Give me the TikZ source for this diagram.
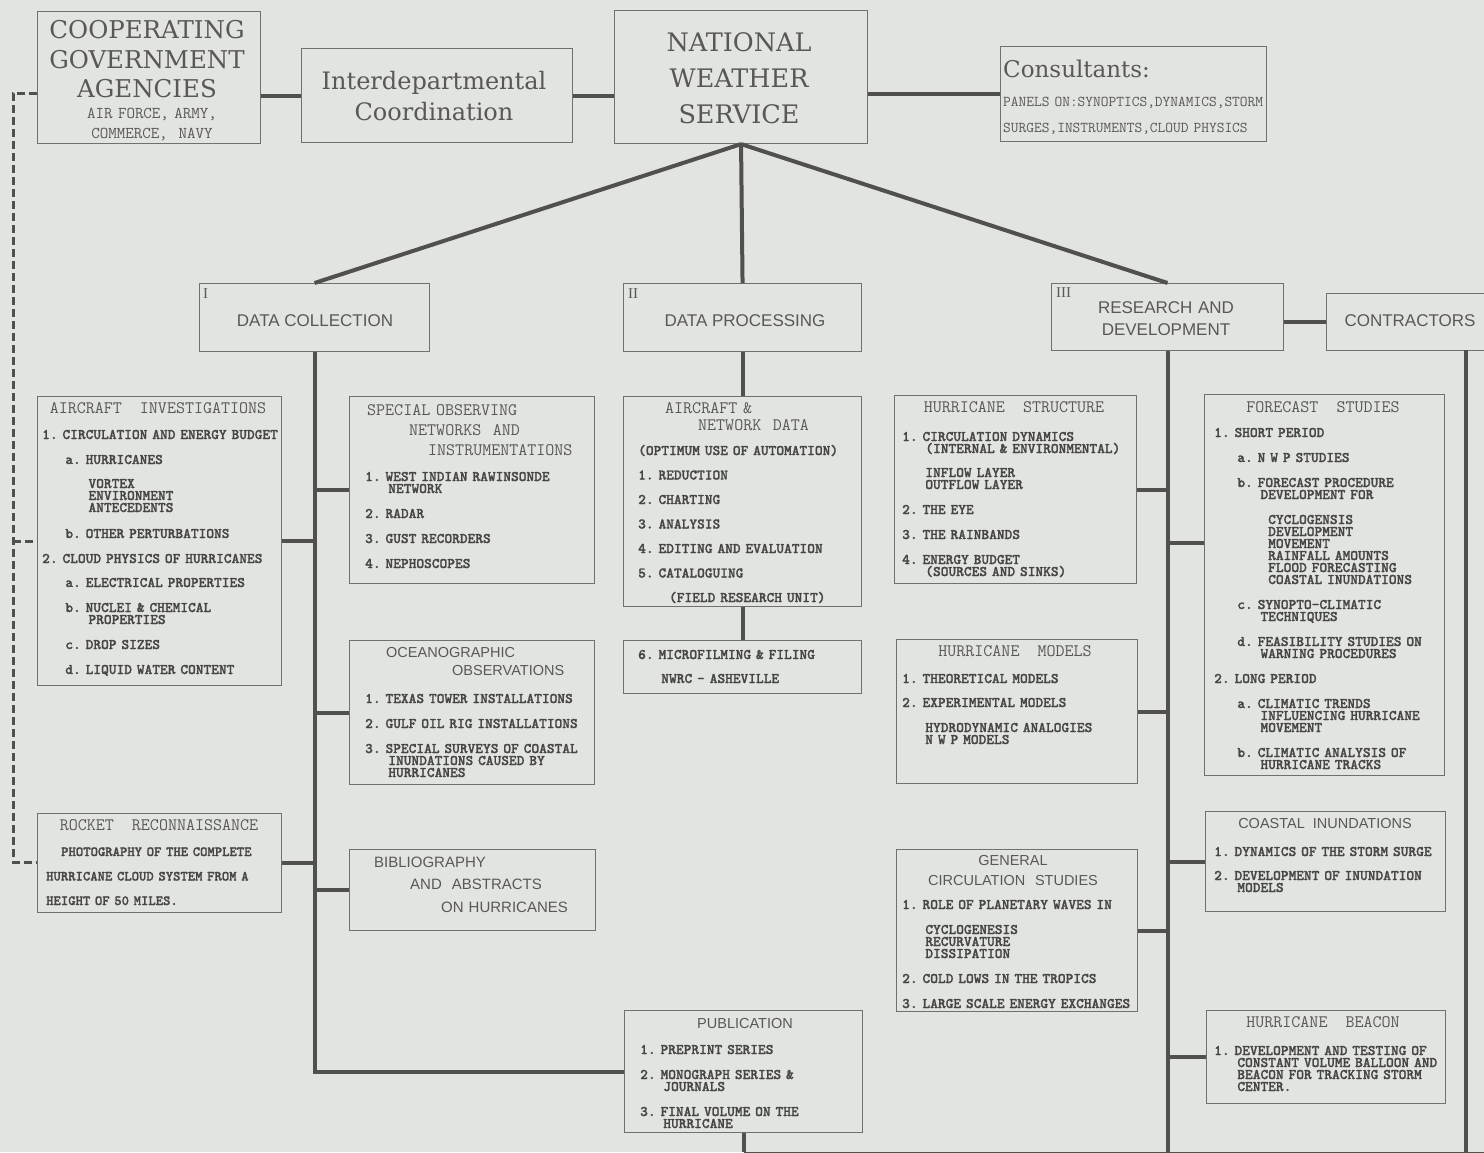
\documentclass[tikz,border=0pt]{standalone}
\usepackage{fontspec}
\setmainfont{Liberation Serif}
\newfontfamily\slabf{DejaVu Serif}
\newfontfamily\sansf{Liberation Sans}
\newfontfamily\romf{Liberation Serif}
\newfontfamily\tbold{lmmonolt10-bold.otf}[FakeBold=1.4]
\definecolor{bg}{RGB}{226,228,224}
\definecolor{ln}{RGB}{80,80,78}
\definecolor{bx}{RGB}{112,112,110}
\definecolor{tx}{RGB}{70,70,70}
\definecolor{txh}{RGB}{88,88,88}
\newcommand\monof{\ttfamily}
\newcommand\monosp{\frenchspacing\spaceskip=\fontcharwd\font`0\relax\xspaceskip=\spaceskip}
\newcommand\bodyf{\tbold\fontsize{14.7}{12}\selectfont\monosp}
\newcommand\hdf{\monof\fontsize{17.5}{18}\selectfont\monosp}
\newcommand\ind[1]{\hspace*{#1\fontcharwd\font`0}\ignorespaces}
\newcommand\nx{\\[13pt]}
\newcommand\bx[5]{\node[box, minimum width={(#4-#2)*1pt}, minimum height={(#5-#3)*1pt}] (#1) at (#2,#3) {};}
\tikzset{
  box/.style={draw=bx, line width=1.1pt, inner sep=0pt, anchor=north west},
  conn/.style={draw=ln, line width=4pt},
  dashconn/.style={draw=ln, line width=3pt, dash pattern=on 8pt off 4pt},
  body/.style={text=tx, inner sep=0pt, anchor=base west, align=left, font=\bodyf, text width=270pt},
  hd/.style={text=txh, inner sep=0pt, anchor=base, font=\hdf},
  hdm/.style={text=txh, inner sep=0pt, anchor=base west, align=left, text width=240pt},
  ttl/.style={text=txh, inner sep=0pt, anchor=base, align=center},
  l2/.style={text=txh, inner sep=0pt, anchor=base, font=\sansf\fontsize{17}{22}\selectfont},
  rn/.style={text=txh, inner sep=0pt, anchor=north west, font=\romf\fontsize{15}{15}\selectfont},
  sh/.style={text=txh, inner sep=0pt, anchor=base, font=\sansf\fontsize{14.5}{20}\selectfont}
}
\begin{document}
\begin{tikzpicture}[x=1pt,y=-1pt]
\fill[bg] (0,0) rectangle (1484,1152);
\useasboundingbox (0,0) rectangle (1484,1152);

% ---------- boxes ----------
\bx{cga}{37}{11}{260}{143}
\bx{idc}{301}{48}{572}{142}
\bx{nws}{614}{10}{867}{143}
\bx{cons}{1000}{46}{1266}{141}
\bx{dc}{199}{283}{429}{351}
\bx{dp}{623}{283}{861}{351}
\bx{rd}{1051}{283}{1283}{350}
\bx{con}{1326}{293}{1490}{350}
\bx{ai}{37}{396}{281}{685}
\bx{rk}{37}{813}{281}{912}
\bx{so}{349}{396}{594}{583}
\bx{oc}{349}{640}{594}{784}
\bx{bib}{349}{849}{595}{930}
\bx{an}{623}{396}{861}{606}
\bx{mf}{623}{640}{861}{693}
\bx{pub}{624}{1010}{862}{1132}
\bx{hs}{894}{395}{1136}{583}
\bx{hm}{896}{639}{1137}{783}
\bx{gc}{896}{849}{1137}{1011}
\bx{fs}{1204}{394}{1444}{775}
\bx{ci}{1205}{811}{1445}{911}
\bx{hb}{1206}{1010}{1445}{1103}

% ---------- helper coordinates ----------
\coordinate (bot) at (0,1152);
\coordinate (botl) at (0,1153.5);
\coordinate (redge) at (1490,1153.5);
\coordinate (dl) at (13,93);
\coordinate (dlm) at (13,541);
\coordinate (dlb) at (13,862);
\coordinate (ctop) at (1466,350);
\coordinate (fsy) at (0,543);

% ---------- connectors ----------
\draw[conn] (cga.east |- idc.west) -- (idc.west);
\draw[conn] (idc.east) -- (idc.east -| nws.west);
\draw[conn] (cons.west -| nws.east) -- (cons.west);
\draw[conn] (nws.south) -- (dc.north);
\draw[conn] (nws.south) -- (dp.north);
\draw[conn] (nws.south) -- (rd.north);
\draw[conn] (rd.east |- con.west) -- (con.west);

\draw[conn] (dc.south) -- (dc.south |- pub.west) -- (pub.west);
\draw[conn] (dc.south |- ai.east) -- (ai.east);
\draw[conn] (dc.south |- rk.east) -- (rk.east);
\draw[conn] (dc.south |- so.west) -- (so.west);
\draw[conn] (dc.south |- oc.west) -- (oc.west);
\draw[conn] (dc.south |- bib.west) -- (bib.west);

\draw[conn] (dp.south) -- (dp.south |- an.north);
\draw[conn] (an.south -| dp.south) -- (mf.north -| dp.south);
\draw[conn] (pub.south) -- (pub.south |- bot);

\draw[conn] (rd.south) -- (rd.south |- bot);
\draw[conn] (rd.south |- hs.east) -- (hs.east);
\draw[conn] (rd.south |- hm.east) -- (hm.east);
\draw[conn] (rd.south |- gc.east) -- (gc.east);
\draw[conn] (rd.south |- fsy) -- (fs.west |- fsy);
\draw[conn] (rd.south |- ci.west) -- (ci.west);
\draw[conn] (rd.south |- hb.west) -- (hb.west);

\draw[conn] (ctop) -- (ctop |- bot);
\draw[conn] (pub.south |- botl) -- (redge);

\draw[dashconn] (cga.west |- dl) -- (dl) -- (dlb) -- (rk.west |- dlb);
\draw[dashconn] (dlm) -- (ai.west |- dlm);

% ---------- top row text ----------
\node[ttl, text width=220pt, font=\slabf\fontsize{24.5}{29.5}\selectfont] (cga-t) at (147,38.5) {COOPERATING\\GOVERNMENT\\AGENCIES};
\node[ttl, text width=220pt, font=\monof\fontsize{16.5}{20}\selectfont\monosp] (cga-s) at (152,118) {AIR FORCE, ARMY,\\COMMERCE,\ \ NAVY};
\node[ttl, text width=260pt, font=\slabf\fontsize{24}{31}\selectfont] (idc-t) at (434,89) {Interdepartmental\\Coordination};
\node[ttl, text width=240pt, font=\slabf\fontsize{25.5}{36}\selectfont] (nws-t) at (739,51.5) {NATIONAL\\WEATHER\\SERVICE};
\node[ttl, anchor=base west, font=\slabf\fontsize{23}{26}\selectfont] (cons-t) at (1003,77) {Consultants:};
\node[body, font=\monof\fontsize{15}{26}\selectfont\monosp, text=txh] (cons-s) at (1003,106) {PANELS ON:SYNOPTICS,DYNAMICS,STORM\\SURGES,INSTRUMENTS,CLOUD PHYSICS};

% ---------- level 2 ----------
\node[rn] (dc-n) at (203,288) {I};
\node[l2] (dc-t) at (315,326) {DATA COLLECTION};
\node[rn] (dp-n) at (628,288) {II};
\node[l2] (dp-t) at (745,326) {DATA PROCESSING};
\node[rn] (rd-n) at (1056,287) {III};
\node[l2, align=center, text width=200pt] (rd-t) at (1166,313) {RESEARCH AND\\DEVELOPMENT};
\node[l2] (con-t) at (1410,326) {CONTRACTORS};

% ---------- data collection ----------
\node[hd] (ai-h) at (158,413) {AIRCRAFT\ \ INVESTIGATIONS};
\node[body] (ai-b) at (42,439) {1. CIRCULATION AND ENERGY BUDGET\nx
\ind3 a. HURRICANES\\[12pt]
\ind6 VORTEX\\ \ind6 ENVIRONMENT\\ \ind6 ANTECEDENTS\\[14pt]
\ind3 b. OTHER PERTURBATIONS\nx
2. CLOUD PHYSICS OF HURRICANES\\[12pt]
\ind3 a. ELECTRICAL PROPERTIES\nx
\ind3 b. NUCLEI \& CHEMICAL\\ \ind6 PROPERTIES\nx
\ind3 c. DROP SIZES\nx
\ind3 d. LIQUID WATER CONTENT};

\node[hd] (rk-h) at (159,830) {ROCKET\ \ RECONNAISSANCE};
\node[body, font=\tbold\fontsize{14}{24.5}\selectfont\monosp] (rk-b) at (46,856) {\hspace*{15pt}PHOTOGRAPHY OF THE COMPLETE\\HURRICANE CLOUD SYSTEM FROM A\\HEIGHT OF 50 MILES.};

\node[hdm, font=\monof\fontsize{17.5}{20}\selectfont\monosp] (so-h) at (367,415) {SPECIAL OBSERVING\\\hspace*{42pt}NETWORKS\ \ AND\\\hspace*{61pt}INSTRUMENTATIONS};
\node[body] (so-b) at (365,481) {1. WEST INDIAN RAWINSONDE\\ \ind3 NETWORK\nx
2. RADAR\nx 3. GUST RECORDERS\nx 4. NEPHOSCOPES};

\node[hdm, font=\sansf\fontsize{14.5}{18}\selectfont] (oc-h) at (386,657) {OCEANOGRAPHIC\\\hspace*{66pt}OBSERVATIONS};
\node[body] (oc-b) at (365,703) {1. TEXAS TOWER INSTALLATIONS\nx
2. GULF OIL RIG INSTALLATIONS\nx
3. SPECIAL SURVEYS OF COASTAL\\ \ind3 INUNDATIONS CAUSED BY\\ \ind3 HURRICANES};

\node[hdm, font=\sansf\fontsize{15}{22.5}\selectfont] (bib-h) at (374,867) {BIBLIOGRAPHY\\\hspace*{36pt}AND\ \ ABSTRACTS\\\hspace*{67pt}ON HURRICANES};

% ---------- data processing ----------
\node[hdm, font=\monof\fontsize{17.5}{17}\selectfont\monosp] (an-h) at (665,413) {AIRCRAFT \&\\\hspace*{33pt}NETWORK\ \ DATA};
\node[body] (an-b) at (638,455) {(OPTIMUM USE OF AUTOMATION)\\[12.5pt]
1. REDUCTION\\[12.5pt] 2. CHARTING\\[12.5pt] 3. ANALYSIS\\[12.5pt]
4. EDITING AND EVALUATION\\[12.5pt] 5. CATALOGUING\\[12.5pt]
\ind4 (FIELD RESEARCH UNIT)};
\node[body] (mf-b) at (638,659) {6. MICROFILMING \& FILING\\[12pt] \ind3 NWRC - ASHEVILLE};

\node[sh] (pub-h) at (745,1028) {PUBLICATION};
\node[body] (pub-b) at (640,1054) {1. PREPRINT SERIES\nx
2. MONOGRAPH SERIES \&\\ \ind3 JOURNALS\nx
3. FINAL VOLUME ON THE\\ \ind3 HURRICANE};

% ---------- research and development ----------
\node[hd] (hs-h) at (1014,412) {HURRICANE\ \ STRUCTURE};
\node[body] (hs-b) at (902,441) {1. CIRCULATION DYNAMICS\\ \ind3 (INTERNAL \& ENVIRONMENTAL)\\[12pt]
\ind3 INFLOW LAYER\\ \ind3 OUTFLOW LAYER\nx
2. THE EYE\nx 3. THE RAINBANDS\nx
4. ENERGY BUDGET\\ \ind3 (SOURCES AND SINKS)};

\node[hd] (hm-h) at (1015,656) {HURRICANE\ \ MODELS};
\node[body] (hm-b) at (902,683) {1. THEORETICAL MODELS\\[12pt]
2. EXPERIMENTAL MODELS\nx
\ind3 HYDRODYNAMIC ANALOGIES\\ \ind3 N W P MODELS};

\node[sh, align=center, text width=230pt] (gc-h) at (1013,865) {GENERAL\\CIRCULATION\ \ STUDIES};
\node[body] (gc-b) at (902,909) {1. ROLE OF PLANETARY WAVES IN\nx
\ind3 CYCLOGENESIS\\ \ind3 RECURVATURE\\ \ind3 DISSIPATION\nx
2. COLD LOWS IN THE TROPICS\nx
3. LARGE SCALE ENERGY EXCHANGES};

\node[hd] (fs-h) at (1323,412) {FORECAST\ \ STUDIES};
\node[body] (fs-b) at (1214,437) {1. SHORT PERIOD\nx
\ind3 a. N W P STUDIES\nx
\ind3 b. FORECAST PROCEDURE\\ \ind6 DEVELOPMENT FOR\nx
\ind7 CYCLOGENSIS\\ \ind7 DEVELOPMENT\\ \ind7 MOVEMENT\\ \ind7 RAINFALL AMOUNTS\\ \ind7 FLOOD FORECASTING\\ \ind7 COASTAL INUNDATIONS\nx
\ind3 c. SYNOPTO-CLIMATIC\\ \ind6 TECHNIQUES\nx
\ind3 d. FEASIBILITY STUDIES ON\\ \ind6 WARNING PROCEDURES\nx
2. LONG PERIOD\nx
\ind3 a. CLIMATIC TRENDS\\ \ind6 INFLUENCING HURRICANE\\ \ind6 MOVEMENT\nx
\ind3 b. CLIMATIC ANALYSIS OF\\ \ind6 HURRICANE TRACKS};

\node[sh] (ci-h) at (1325,828) {COASTAL\ \ INUNDATIONS};
\node[body] (ci-b) at (1214,856) {1. DYNAMICS OF THE STORM SURGE\\[12pt]
2. DEVELOPMENT OF INUNDATION\\ \ind3 MODELS};

\node[hd] (hb-h) at (1323,1027) {HURRICANE\ \ BEACON};
\node[body] (hb-b) at (1214,1055) {1. DEVELOPMENT AND TESTING OF\\ \ind3 CONSTANT VOLUME BALLOON AND\\ \ind3 BEACON FOR TRACKING STORM\\ \ind3 CENTER.};
\end{tikzpicture}
\end{document}
